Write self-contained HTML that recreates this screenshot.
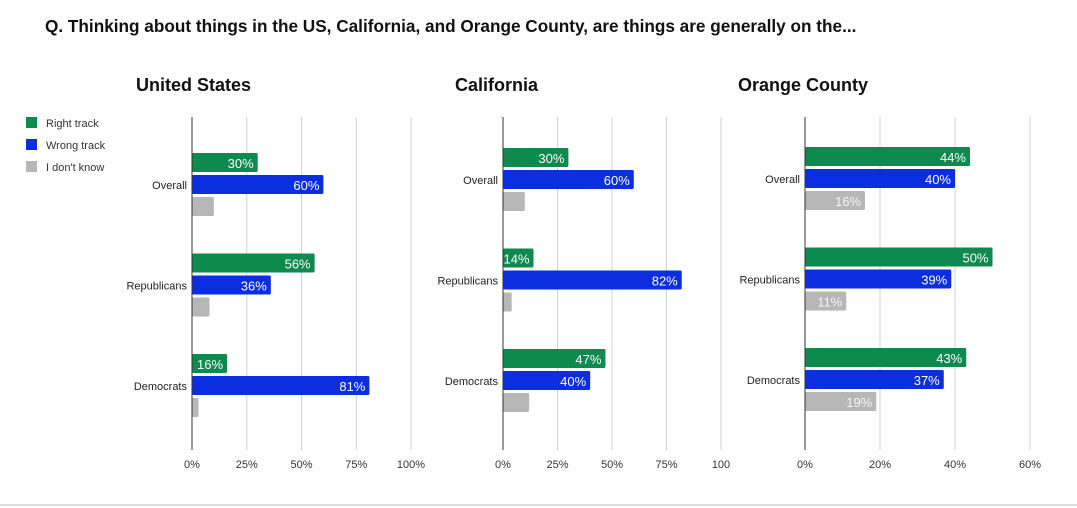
<!DOCTYPE html>
<html><head><meta charset="utf-8"><style>
body{margin:0;width:1077px;height:508px;background:#fff;overflow:hidden;font-family:"Liberation Sans",sans-serif;position:relative}
#q{position:absolute;left:45px;top:16px;font-size:17.2px;font-weight:bold;color:#111;white-space:nowrap}
.ct{position:absolute;top:75px;font-size:18px;font-weight:bold;color:#111}
.lg{position:absolute;left:26px;font-size:11px;color:#333}
.lg span{display:inline-block;width:11px;height:11px;vertical-align:-1px;margin-right:9px}
#botline{position:absolute;left:0;top:504px;width:1077px;height:2px;background:#ddd}
</style></head><body>
<div id="q">Q. Thinking about things in the US, California, and Orange County, are things are generally on the...</div>
<div class="ct" style="left:136px">United States</div>
<div class="ct" style="left:455px">California</div>
<div class="ct" style="left:738px">Orange County</div>
<div class="lg" style="top:117px"><span style="background:#0f8a4f"></span>Right track</div>
<div class="lg" style="top:139px"><span style="background:#0b2ee0"></span>Wrong track</div>
<div class="lg" style="top:161px"><span style="background:#b7b7b7"></span>I don't know</div>
<div id="botline"></div>
<svg id="svg" width="1077" height="508" style="position:absolute;left:0;top:0"></svg>
<script>
const categories=["Overall","Republicans","Democrats"];
const usRight=[30,56,16], usWrong=[60,36,81], usDK=[10,8,3];
const caRight=[30,14,47], caWrong=[60,82,40], caDK=[10,4,12];
const ocRight=[44,50,43], ocWrong=[40,39,37], ocDK=[16,11,19];
const usTicks=[0,25,50,75,100], caTicks=[0,25,50,75,100], ocTicks=[0,20,40,60];
const colors=["#0f8a4f","#0b2ee0","#b7b7b7"];
const NS="http://www.w3.org/2000/svg";
const svg=document.getElementById('svg');
function mk(t,a){const e=document.createElementNS(NS,t);for(const k in a)e.setAttribute(k,a[k]);svg.appendChild(e);return e;}
function chart(id,x0,pxPer,top,ticks,series,dkLabel,clipX){
  const yTop=117,yBot=450;
  ticks.forEach(t=>{
    const x=x0+t*pxPer;
    if(t>0){const g=mk('line',{x1:x,x2:x,y1:yTop,y2:yBot,stroke:'#d0d0d0','stroke-width':1});
    
    }
    const tx=mk('text',{x:x,y:468,'text-anchor':'middle','font-size':11,fill:'#333','font-family':'Liberation Sans'});
    tx.textContent=t+'%';
    if(clipX && x>clipX) tx.textContent=String(t);
    
    
  });
  categories.forEach((c,i)=>{
    const gy=top+i*100.5;
    series.forEach((s,j)=>{
      const v=s[i],y=gy+j*22,w=v*pxPer;
      const r=mk('rect',{x:x0,y:y,width:w,height:19,rx:1.5,fill:colors[j]});
      
      
      if(j<2||dkLabel){
        const t=mk('text',{x:x0+w-4,y:y+15,'text-anchor':'end','font-size':13,fill:j==2?'#f4f4f4':'#fff','font-family':'Liberation Sans'});
        t.textContent=v+'%';
        
        
      }
    });
    const l=mk('text',{x:x0-5,y:gy+22+14,'text-anchor':'end','font-size':11,fill:'#222','font-family':'Liberation Sans'});
    l.textContent=c;
    
    
  });
  const ax=mk('line',{x1:x0,x2:x0,y1:yTop,y2:yBot,stroke:'#333','stroke-width':1});
  
  
}
chart('us',192,2.19,153,usTicks,[usRight,usWrong,usDK],false);
chart('ca',503,2.18,148,caTicks,[caRight,caWrong,caDK],false,715);
chart('oc',805,3.75,147,ocTicks,[ocRight,ocWrong,ocDK],true);
</script>
</body></html>
